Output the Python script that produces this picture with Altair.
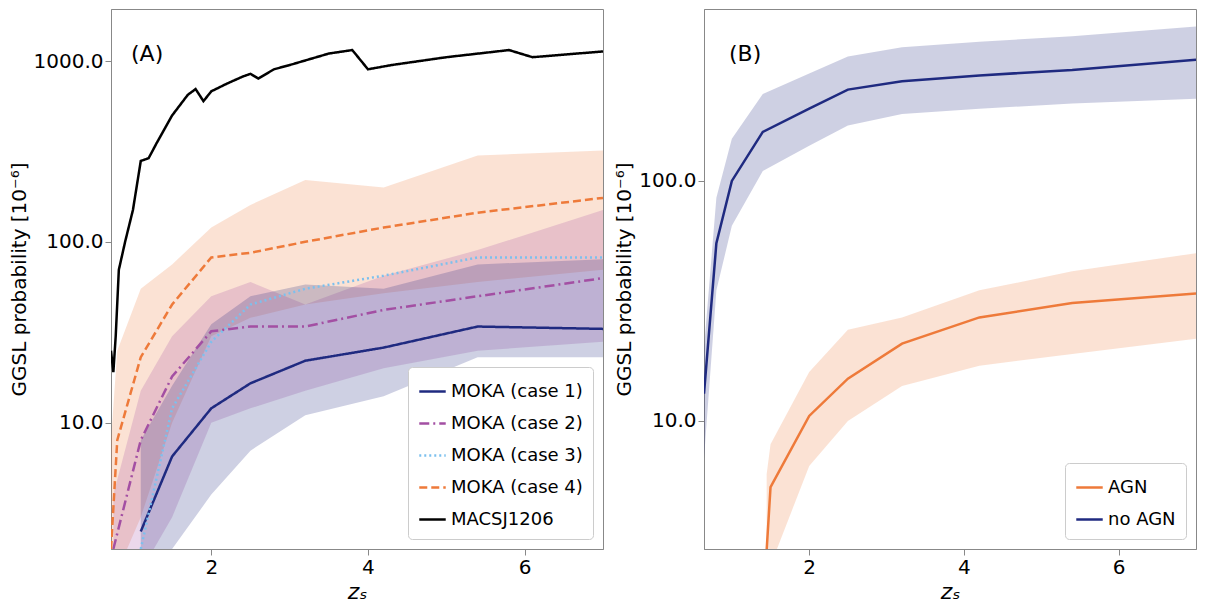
import altair as alt
import pandas as pd

# ---- panel A ----
m1_x = [1.1, 1.5, 2.0, 2.5, 3.2, 4.2, 5.4, 7.0]
m1_y = [2.5, 6.5, 12, 16.5, 22, 26, 34, 33]
m1_lo = [1.2, 2.0, 4.0, 7.0, 11, 14, 23, 23]
m1_hi = [8, 16, 35, 50, 58, 55, 75, 80]

m2_x = [0.75, 1.1, 1.5, 2.0, 2.5, 3.2, 4.2, 5.4, 7.0]
m2_y = [2.0, 8, 18, 32, 34, 34, 42, 50, 63]
m2_lo = [1.0, 1.5, 3, 10, 12, 15, 20, 25, 28]
m2_hi = [4, 15, 30, 50, 60, 45, 65, 90, 150]

m3_x = [1.1, 1.5, 2.0, 2.5, 3.2, 4.2, 5.4, 7.0]
m3_y = [2.0, 12, 28, 45, 55, 65, 82, 82]

m4_x = [0.72, 0.8, 1.1, 1.5, 2.0, 2.5, 3.2, 4.2, 5.4, 7.0]
m4_y = [2.0, 8, 23, 45, 82, 87, 100, 120, 145, 175]
m4_lo = [1.0, 1.5, 3, 10, 30, 38, 45, 52, 60, 70]
m4_hi = [8, 25, 55, 75, 120, 160, 220, 200, 300, 320]

mac_x = [0.72, 0.75, 0.78, 0.82, 0.9, 1.0, 1.1, 1.2, 1.3, 1.5, 1.7, 1.8, 1.9, 2.0,
         2.2, 2.4, 2.5, 2.6, 2.8, 3.0, 3.5, 3.8, 4.0, 4.3, 5.0, 5.8, 6.1, 7.0]
mac_y = [25, 19, 30, 70, 100, 150, 280, 290, 350, 500, 650, 700, 600, 680,
         750, 820, 850, 800, 900, 950, 1100, 1150, 900, 950, 1050, 1150, 1050, 1130]

# ---- panel B ----
noagn_x = [0.64, 0.8, 1.0, 1.4, 2.0, 2.5, 3.2, 4.2, 5.4, 7.0]
noagn_y = [13, 55, 100, 160, 200, 240, 260, 275, 290, 320]
noagn_lo = [7, 35, 65, 110, 140, 170, 190, 200, 210, 220]
noagn_hi = [20, 85, 150, 230, 280, 330, 360, 380, 400, 440]

agn_x = [1.45, 1.5, 2.0, 2.5, 3.2, 4.2, 5.4, 7.0]
agn_y = [2.9, 5.3, 10.5, 15, 21, 27, 31, 34]
agn_lo = [1.5, 2.5, 6.5, 10, 14, 17, 19, 22]
agn_hi = [6, 8, 16, 24, 27, 35, 42, 50]

A_NAMES = ["MOKA (case 1)", "MOKA (case 2)", "MOKA (case 3)", "MOKA (case 4)", "MACSJ1206"]
A_COLORS = ["#1f2a80", "#a34fa3", "#7cc0ee", "#ee7a3a", "#000000"]
A_DASH = [[1, 0], [10, 4, 2, 4], [2, 3], [8, 4], [1, 0]]

lines_a = pd.concat([
    pd.DataFrame({"z": x, "p": y, "s": n})
    for x, y, n in [(m1_x, m1_y, A_NAMES[0]), (m2_x, m2_y, A_NAMES[1]),
                    (m3_x, m3_y, A_NAMES[2]), (m4_x, m4_y, A_NAMES[3]),
                    (mac_x, mac_y, A_NAMES[4])]
])
bands_a = pd.concat([
    pd.DataFrame({"z": x, "lo": lo, "hi": hi, "s": n})
    for x, lo, hi, n in [(m4_x, m4_lo, m4_hi, A_NAMES[3]), (m2_x, m2_lo, m2_hi, A_NAMES[1]),
                         (m1_x, m1_lo, m1_hi, A_NAMES[0])]
])

FONT = "DejaVu Sans"
W, H = 492, 540


def legend():
    return alt.Legend(
        title=None, orient="bottom-right", labelFontSize=18, symbolType="stroke",
        symbolSize=700, symbolStrokeWidth=2.5, strokeColor="#cccccc",
        fillColor="white", padding=10, cornerRadius=4, offset=10, labelFont=FONT,
        rowPadding=8, symbolOpacity=1)


def yaxis():
    return alt.Axis(values=[10, 100, 1000], format=".1f", labelFontSize=20,
                    titleFontSize=20, titleFontWeight="normal", grid=False,
                    title="GGSL probability [10⁻⁶]", tickSize=6)


def xaxis():
    return alt.Axis(values=[2, 4, 6], format="d", labelFontSize=20, titleFontSize=22,
                    titleFontStyle="italic", titleFontWeight="normal", grid=False,
                    title="zₛ", tickSize=6)


xs = alt.Scale(domain=[0.72, 7], nice=False, zero=False)
ys_a = alt.Scale(type="log", domain=[2.0, 1940], nice=False)
col_a = alt.Scale(domain=A_NAMES, range=A_COLORS)
dash_a = alt.Scale(domain=A_NAMES, range=A_DASH)

band_a = alt.Chart(bands_a).mark_area(opacity=0.22, clip=True).encode(
    x=alt.X("z:Q", scale=xs, axis=xaxis()),
    y=alt.Y("lo:Q", scale=ys_a, axis=yaxis()),
    y2="hi:Q",
    color=alt.Color("s:N", scale=col_a, legend=legend()),
    detail="s:N",
)
line_a = alt.Chart(lines_a).mark_line(strokeWidth=2.5, clip=True).encode(
    x="z:Q",
    y="p:Q",
    color=alt.Color("s:N", scale=col_a, legend=legend()),
    strokeDash=alt.StrokeDash("s:N", scale=dash_a, legend=legend()),
)
lab_a = alt.Chart(pd.DataFrame({"t": ["(A)"]})).mark_text(
    fontSize=22, align="left", baseline="middle", font=FONT).encode(
    text="t:N", x=alt.value(20), y=alt.value(45))
panel_a = (band_a + line_a + lab_a).properties(width=W, height=H)

# ---- panel B ----
B_NAMES = ["AGN", "no AGN"]
B_COLORS = ["#ee7a3a", "#1f2a80"]
col_b = alt.Scale(domain=B_NAMES, range=B_COLORS)
lines_b = pd.concat([pd.DataFrame({"z": agn_x, "p": agn_y, "s": "AGN"}),
                     pd.DataFrame({"z": noagn_x, "p": noagn_y, "s": "no AGN"})])
bands_b = pd.concat([pd.DataFrame({"z": agn_x, "lo": agn_lo, "hi": agn_hi, "s": "AGN"}),
                     pd.DataFrame({"z": noagn_x, "lo": noagn_lo, "hi": noagn_hi, "s": "no AGN"})])
xs_b = alt.Scale(domain=[0.64, 7], nice=False, zero=False)
ys_b = alt.Scale(type="log", domain=[2.93, 520], nice=False)

band_b = alt.Chart(bands_b).mark_area(opacity=0.22, clip=True).encode(
    x=alt.X("z:Q", scale=xs_b, axis=xaxis()),
    y=alt.Y("lo:Q", scale=ys_b, axis=yaxis()),
    y2="hi:Q",
    color=alt.Color("s:N", scale=col_b, legend=legend()),
    detail="s:N",
)
line_b = alt.Chart(lines_b).mark_line(strokeWidth=2.5, clip=True).encode(
    x="z:Q", y="p:Q",
    color=alt.Color("s:N", scale=col_b, legend=legend()),
)
lab_b = alt.Chart(pd.DataFrame({"t": ["(B)"]})).mark_text(
    fontSize=22, align="left", baseline="middle", font=FONT).encode(
    text="t:N", x=alt.value(25), y=alt.value(45))
panel_b = (band_b + line_b + lab_b).properties(width=W, height=H)

chart = alt.hconcat(panel_a, panel_b, spacing=10).resolve_scale(
    color="independent", strokeDash="independent", x="independent", y="independent"
).resolve_legend(color="independent", strokeDash="independent").configure(
    font=FONT, padding={"left": 0, "top": 0, "right": 0, "bottom": 0}
).configure_view(stroke="#888888").configure_axis(labelFont=FONT, titleFont=FONT,
                                                  domainColor="#888888", tickColor="#888888")

chart.save("out.html", embed_options={"renderer": "svg", "actions": False})
